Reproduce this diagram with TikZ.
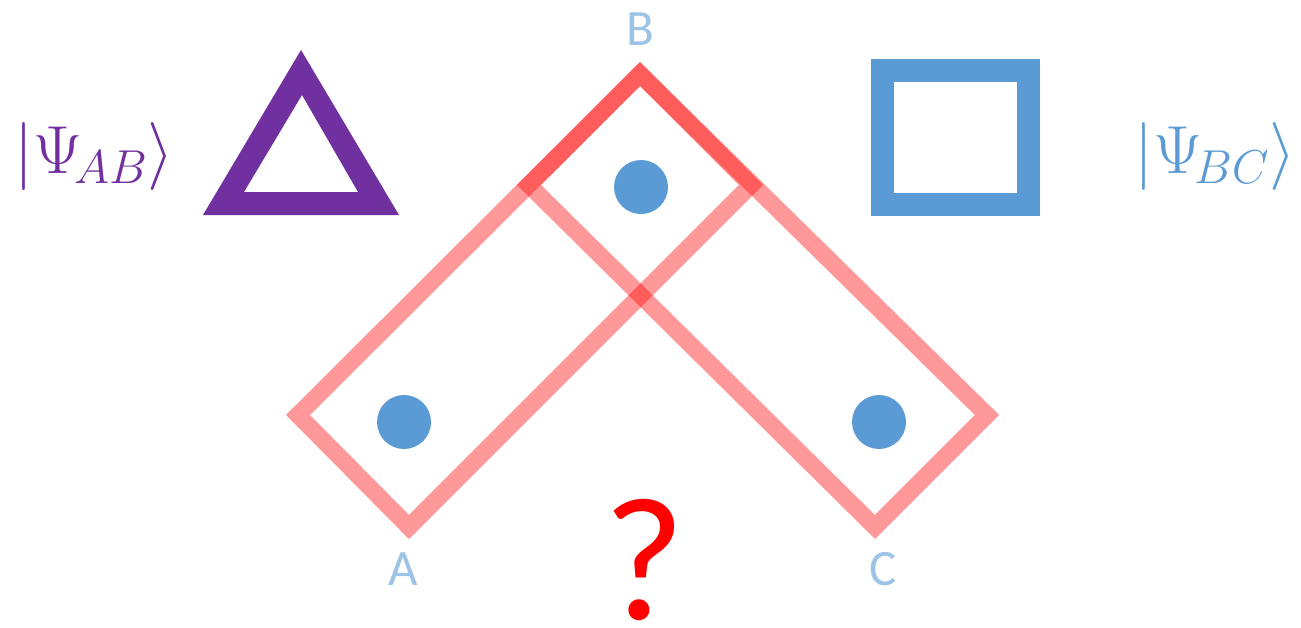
\RequirePackage{fix-cm}
\documentclass[tikz,border=0pt]{standalone}
\usepackage{fontspec}
\setmainfont{Carlito}
\definecolor{ketpurple}{HTML}{7030A0}
\definecolor{dotblue}{HTML}{5B9BD5}
\definecolor{lblblue}{HTML}{9DC3E6}
\begin{document}
\begin{tikzpicture}[x=1pt,y=-1pt,
  pairbox/.style={draw=red,draw opacity=0.4,line width=17pt,line join=miter},
  qdot/.style={circle,fill=dotblue,minimum size=54pt,inner sep=0pt},
  lbl/.style={text=lblblue,font=\fontsize{51}{51}\selectfont,inner sep=0pt,anchor=base},
  ket/.style={inner sep=0pt,anchor=base west,font=\fontsize{68}{68}\selectfont}]
\useasboundingbox (0,0) rectangle (1301,627);
% corners
\coordinate (top) at (640,74);
\coordinate (r1) at (751,185);
\coordinate (b1) at (409,527);
\coordinate (l1) at (298,415);
\coordinate (l2) at (529,185);
\coordinate (b2) at (875,527);
\coordinate (r2) at (987,415);
% pair boxes
\draw[pairbox] (top) -- (r1) -- (b1) -- (l1) -- cycle;
\draw[pairbox] (top) -- (r2) -- (b2) -- (l2) -- cycle;
% qubits
\node[qdot] (dA) at (404,422) {};
\node[qdot] (dB) at (641,187) {};
\node[qdot] (dC) at (879,422) {};
% labels
\node[lbl] (lA) at (403,585) {A};
\node[lbl] (lB) at (640,45) {B};
\node[lbl] (lC) at (883,585) {C};
\node[inner sep=0pt,anchor=base,text depth=0pt,text=red,font=\fontsize{176}{176}\selectfont] (q) at (644,619) {?};
% triangle
\fill[ketpurple,even odd rule] (203,215) -- (399,215) -- (301,50) -- cycle
  (244,192) -- (358,192) -- (302,95) -- cycle;
% square
\draw[dotblue,line width=23pt] (882.5,70.5) rectangle (1028.5,204.5);
% kets
\node[ket,text=ketpurple] (kAB) at (14,173) {$\Bigl|\Psi_{\!AB}\Bigr\rangle$};
\node[ket,text=dotblue] (kBC) at (1134,173) {$\Bigl|\Psi_{\!BC}\Bigr\rangle$};
\end{tikzpicture}
\end{document}
